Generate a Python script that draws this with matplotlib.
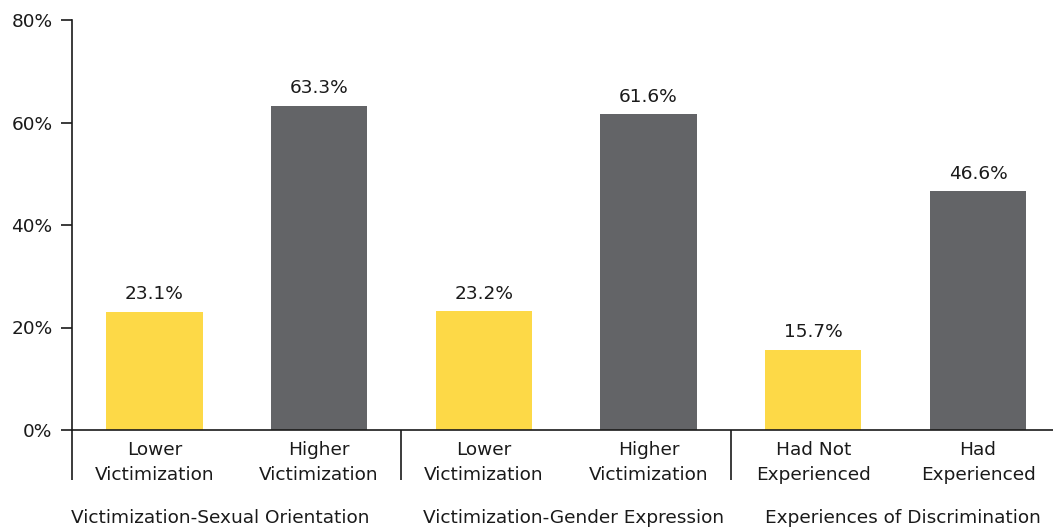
import numpy as np
import matplotlib.pyplot as plt
from matplotlib.ticker import FixedLocator

categories = ['Lower\nVictimization', 'Higher\nVictimization',
              'Lower\nVictimization', 'Higher\nVictimization',
              'Had Not\nExperienced', 'Had\nExperienced']
values = [23.1, 63.3, 23.2, 61.6, 15.7, 46.6]
groups = ['Victimization-Sexual Orientation', 'Victimization-Gender Expression',
          'Experiences of Discrimination']
group_pos = [0.4, 2.545, 4.545]
yticks = [0, 20, 40, 60, 80]

yellow = '#FDD947'
gray = '#636467'
text_col = '#1a1a1a'

plt.rcParams['font.family'] = 'DejaVu Sans'
fs = 13.3

fig = plt.figure(figsize=(10.53, 5.29), dpi=100)
ax = fig.add_axes([72/1053, 99/529, (1053-72)/1053, 410/529])

x = np.arange(len(values))
colors = [yellow if i % 2 == 0 else gray for i in range(len(values))]
bars = ax.bar(x, values, width=0.585, color=colors)

for xi, v in zip(x, values):
    ax.annotate(f'{v:.1f}%', (xi, v), xytext=(0, 6), textcoords='offset points',
                ha='center', va='bottom', fontsize=fs, color=text_col)

ax.set_xlim(-0.5, 5.455)
ax.set_ylim(0, 80)
ax.set_yticks(yticks)
ax.set_yticklabels([f'{t}%' for t in yticks], fontsize=fs, color=text_col)
ax.tick_params(axis='y', length=8, width=1.2, pad=6, color=text_col)

ax.set_xticks(x)
ax.set_xticklabels(categories, fontsize=fs, color=text_col, linespacing=1.5)
ax.tick_params(axis='x', which='major', length=0, pad=8)
ax.xaxis.set_minor_locator(FixedLocator([-0.5, 1.5, 3.5]))
ax.tick_params(axis='x', which='minor', length=36, width=1.2, color=text_col)

for spine in ['top', 'right']:
    ax.spines[spine].set_visible(False)
for spine in ['left', 'bottom']:
    ax.spines[spine].set_linewidth(1.2)
    ax.spines[spine].set_color(text_col)

for gx, g in zip(group_pos, groups):
    ax.text(gx, -0.215, g, transform=ax.get_xaxis_transform(),
            ha='center', va='center', fontsize=fs, color=text_col)

fig.savefig('out.png', dpi=100)
